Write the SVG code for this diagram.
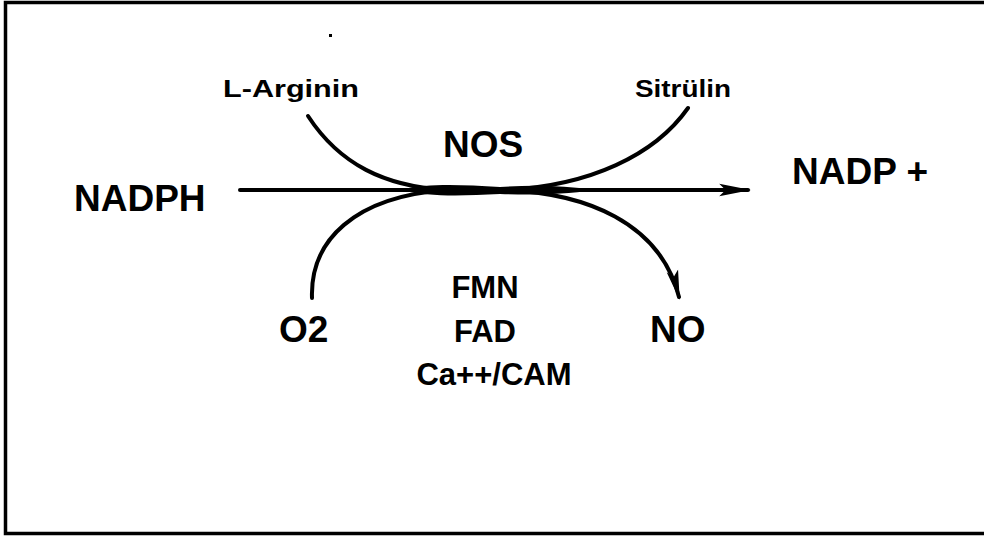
<svg xmlns="http://www.w3.org/2000/svg" width="984" height="541" viewBox="0 0 984 541">
<defs>
<style>
text{font-family:"Liberation Sans",Arial,Helvetica,sans-serif;font-weight:bold;fill:#000}
.big{font-size:37px}
.mid{font-size:31px}
.small{font-size:23px}
.ln{fill:none;stroke:#000;stroke-width:4;stroke-linecap:round}
</style>
<marker id="ahL" viewBox="0 0 10 10" refX="9" refY="5" markerWidth="32" markerHeight="14" markerUnits="userSpaceOnUse" orient="auto" preserveAspectRatio="none">
<path d="M0,0.5 L10,5 L0,9.5 L2,5 z" fill="#000"/>
</marker>
<marker id="ahD" viewBox="0 0 10 10" refX="9" refY="5" markerWidth="30" markerHeight="13" markerUnits="userSpaceOnUse" orient="auto" preserveAspectRatio="none">
<path d="M0,0.5 L10,5 L0,9.5 L2,5 z" fill="#000"/>
</marker>
</defs>
<rect width="984" height="541" fill="#fff"/>
<path d="M990,2.5 H5.5 V533.5 H990" fill="none" stroke="#000" stroke-width="3.5"/>
<rect x="329" y="34" width="3" height="3" fill="#000"/>
<g id="connectors">
<path class="ln" d="M240,190 L748,190" marker-end="url(#ahL)"/>
<path class="ln" d="M308,116 C340,165 385,186 445,190"/>
<path class="ln" d="M505,190 C590,186 655,155 688,108"/>
<path class="ln" d="M312,298 C310,240 355,197 445,190"/>
<path class="ln" d="M505,190 C585,193 660,222 679,297" marker-end="url(#ahD)"/>
<path d="M400,190 C430,183 460,185 500,187 C530,185 560,185 595,190 C560,195 530,195 500,194 C460,196 430,197 400,190 z" fill="#000"/>
</g>
<g id="node-larginin"><text class="small" x="223" y="97" textLength="136" lengthAdjust="spacingAndGlyphs">L-Arginin</text></g>
<g id="node-sitrulin"><text class="small" x="635" y="97" textLength="96" lengthAdjust="spacingAndGlyphs">Sitrülin</text></g>
<g id="node-nos"><text class="big" x="443" y="157">NOS</text></g>
<g id="node-nadph"><text class="big" x="74" y="211">NADPH</text></g>
<g id="node-nadp"><text class="big" x="792" y="184">NADP +</text></g>
<g id="node-o2"><text class="big" x="279" y="342">O2</text></g>
<g id="node-no"><text class="big" x="650" y="342">NO</text></g>
<g id="node-cofactors">
<text class="mid" x="485" y="298" text-anchor="middle">FMN</text>
<text class="mid" x="485" y="342" text-anchor="middle">FAD</text>
<text class="mid" x="494" y="385" text-anchor="middle">Ca++/CAM</text>
</g>
</svg>
